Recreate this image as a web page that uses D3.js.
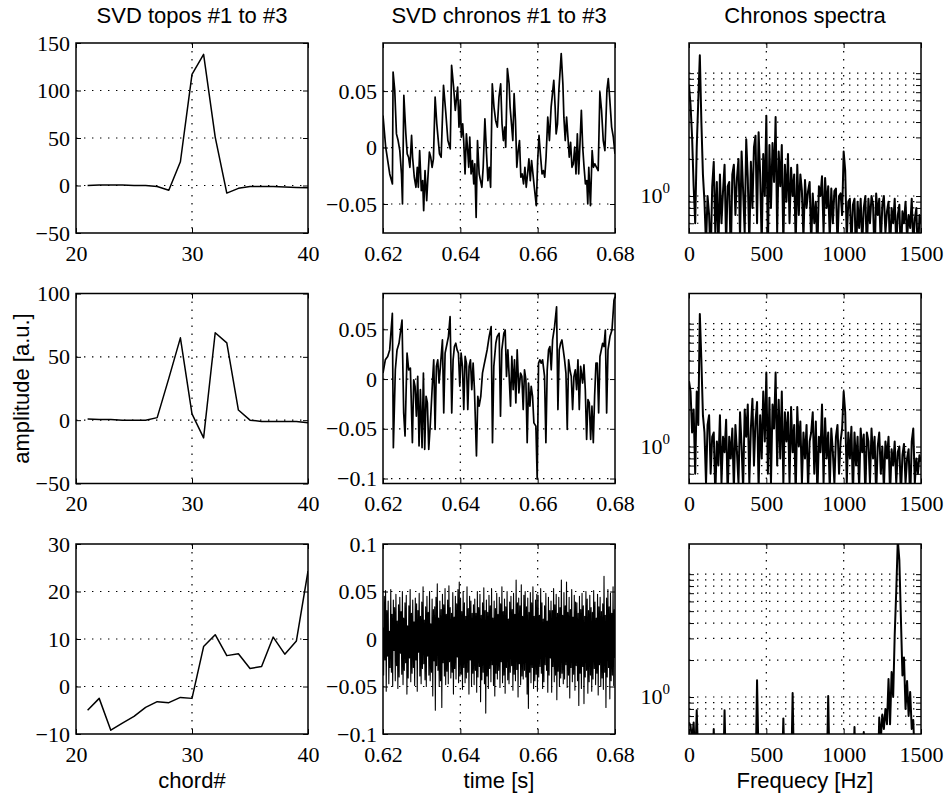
<!DOCTYPE html>
<html>
<head>
<meta charset="utf-8">
<script src="https://cdn.jsdelivr.net/npm/d3@7"></script>
<style>
  html, body { margin: 0; padding: 0; background: #fff; }
  svg { display: block; background: #fff; }
</style>
</head>
<body>
<svg id="fig" width="949" height="798"></svg>
<script>
// ---- data ----------------------------------------------------------------
const chords = [21,22,23,24,25,26,27,28,29,30,31,32,33,34,35,36,37,38,39,40];
const topo1 = [0,0.5,0.5,0.5,0,0,-1,-5,25,117,138,51,-8,-3,-1,-1,-1,-1.5,-2,-2.5];
const topo2 = [1,0.5,0.5,0,0,0,2,33,65,5,-14,69,61,8,0,-1,-1,-1,-1,-2];
const topo3 = [-5,-2.5,-9.2,-7.7,-6.3,-4.4,-3.2,-3.4,-2.3,-2.5,8.4,10.9,6.5,6.9,3.8,4.2,10.4,6.8,9.6,24.3];

// chronos #1, #2 : [time in ms, amplitude]
const chrono1 = [
  [620.00,0.0284],[620.70,0.0003],[621.74,-0.0234],[622.44,-0.0323],[622.61,0.0669],[623.04,0.0506],
  [623.48,0.0121],[623.91,0.0062],[624.35,-0.0027],[624.78,-0.0234],[625.04,-0.0500],[625.39,0.0462],
  [625.91,0.0121],[626.26,-0.0056],[626.61,-0.0086],[626.96,-0.0175],[627.39,0.0107],[627.65,-0.0086],
  [628.09,-0.0263],[628.52,-0.0352],[628.87,-0.0175],[629.13,-0.0352],[629.48,-0.0027],[629.91,-0.0382],
  [630.26,-0.0293],[630.52,-0.0559],[630.87,-0.0204],[631.30,-0.0471],[631.57,-0.0293],[632.00,-0.0041],
  [632.35,-0.0086],[632.70,-0.0175],[633.04,-0.0101],[633.48,0.0447],[633.91,0.0210],[634.61,-0.0056],
  [635.04,-0.0086],[635.65,0.0551],[636.26,0.0299],[636.78,0.0062],[637.39,-0.0012],[637.74,0.0728],
  [638.26,0.0536],[638.70,0.0329],[639.30,0.0536],[639.65,0.0181],[640.00,0.0417],[640.26,0.0092],
  [640.61,0.0210],[640.87,0.0062],[641.22,-0.0234],[641.57,0.0121],[641.91,-0.0027],[642.17,-0.0175],
  [642.44,0.0092],[642.78,-0.0234],[643.13,-0.0115],[643.48,-0.0323],[643.74,-0.0145],[644.09,-0.0619],
  [644.44,0.0062],[644.87,-0.0234],[645.22,-0.0293],[645.57,-0.0352],[645.91,-0.0175],[646.35,0.0255],
  [646.78,-0.0056],[647.13,-0.0293],[647.48,-0.0175],[647.83,-0.0352],[648.26,0.0565],[648.70,0.0358],
  [649.13,0.0240],[649.57,0.0181],[650.00,0.0447],[650.43,0.0565],[650.78,0.0210],[651.13,0.0062],
  [651.48,0.0181],[651.74,0.0003],[652.17,0.0699],[652.61,0.0565],[652.87,0.0358],[653.30,0.0181],
  [653.57,0.0062],[653.91,0.0477],[654.26,0.0240],[654.61,-0.0175],[654.96,-0.0027],[655.30,0.0062],
  [655.65,-0.0263],[656.00,-0.0234],[656.35,-0.0323],[656.70,-0.0175],[657.04,-0.0352],[657.39,-0.0234],
  [657.74,-0.0101],[658.09,-0.0293],[658.43,-0.0115],[658.78,-0.0234],[659.13,-0.0352],[659.65,-0.0515],
  [660.00,-0.0115],[660.35,0.0107],[660.70,-0.0056],[661.13,-0.0234],[661.48,-0.0204],[661.83,-0.0263],
  [662.17,-0.0086],[662.61,0.0269],[663.04,0.0062],[663.48,0.0358],[663.91,0.0506],[664.17,0.0595],
  [664.52,0.0358],[664.78,0.0121],[665.13,0.0210],[665.48,0.0506],[666.09,0.0832],[666.52,0.0565],
  [666.78,0.0269],[667.13,0.0062],[667.48,0.0269],[667.83,0.0092],[668.17,-0.0086],[668.52,0.0047],
  [668.87,-0.0175],[669.22,-0.0145],[669.57,0.0003],[669.91,-0.0234],[670.26,0.0121],[670.61,-0.0234],
  [671.30,0.0329],[671.65,0.0003],[672.00,-0.0175],[672.35,-0.0323],[672.70,-0.0293],[672.96,-0.0500],
  [673.22,-0.0175],[673.65,-0.0515],[674.09,-0.0027],[674.43,-0.0175],[674.78,-0.0145],[675.22,-0.0175],
  [675.65,-0.0204],[676.09,0.0491],[676.52,0.0329],[676.96,0.0062],[677.39,-0.0027],[677.91,0.0506],
  [678.26,0.0610],[678.61,0.0447],[679.13,0.0181],[679.57,0.0092],[680.00,-0.0056]
];
const chrono2 = [
  [620.00,0.0060],[620.60,0.0193],[621.21,0.0227],[621.73,0.0293],[622.42,0.0660],[622.68,-0.0690],
  [623.19,0.0093],[623.63,0.0293],[624.14,0.0360],[624.92,0.0593],[625.35,-0.0340],[625.70,-0.0573],
  [626.22,0.0260],[626.65,0.0093],[627.08,0.0110],[627.60,-0.0640],[627.94,-0.0007],[628.29,-0.0073],
  [628.63,-0.0373],[628.98,0.0027],[629.32,-0.0673],[629.67,-0.0107],[630.10,-0.0690],[630.45,0.0060],
  [630.79,-0.0707],[631.14,-0.0173],[631.48,-0.0240],[631.83,-0.0707],[632.26,-0.0440],[632.78,-0.0040],
  [633.12,0.0193],[633.47,-0.0507],[633.81,0.0127],[634.16,0.0193],[634.50,-0.0040],[634.85,0.0127],
  [635.37,0.0393],[635.71,-0.0340],[636.06,0.0260],[636.58,0.0360],[636.92,0.0427],[637.35,0.0627],
  [637.78,-0.0340],[638.13,0.0193],[638.47,0.0327],[638.82,0.0360],[639.17,0.0293],[639.51,0.0260],
  [639.86,-0.0073],[640.20,0.0260],[640.55,0.0127],[640.89,-0.0307],[641.24,0.0227],[641.58,0.0160],
  [641.93,-0.0307],[642.27,0.0127],[642.62,0.0193],[642.96,-0.0107],[643.31,0.0160],[643.65,-0.0107],
  [644.17,-0.0773],[644.52,-0.0173],[644.86,-0.0273],[645.29,-0.0173],[645.73,0.0060],[646.07,0.0127],
  [646.59,0.0227],[646.93,0.0293],[647.45,0.0427],[647.97,0.0527],[648.32,-0.0640],[648.66,0.0127],
  [649.18,0.0360],[649.52,0.0427],[650.04,0.0460],[650.39,-0.0373],[650.73,0.0293],[651.25,0.0460],
  [651.60,0.0493],[651.94,0.0027],[652.29,0.0293],[652.63,0.0027],[652.98,-0.0273],[653.32,0.0227],
  [653.67,-0.0107],[654.01,0.0193],[654.36,-0.0240],[654.70,0.0293],[655.14,-0.0140],[655.57,0.0060],
  [655.91,0.0027],[656.26,-0.0307],[656.60,0.0093],[656.95,-0.0007],[657.29,-0.0640],[657.64,-0.0040],
  [657.99,-0.0273],[658.33,-0.0073],[658.68,-0.0173],[659.02,-0.0440],[659.54,-0.0473],[659.88,-0.1007],
  [660.23,0.0160],[660.57,0.0193],[660.92,0.0160],[661.27,0.0193],[661.78,0.0027],[662.13,-0.0640],
  [662.47,0.0093],[662.82,0.0293],[663.16,0.0327],[663.51,0.0093],[663.86,0.0393],[664.37,0.0527],
  [664.89,0.0727],[665.24,-0.0307],[665.58,0.0293],[665.93,0.0360],[666.27,0.0393],[666.62,0.0293],
  [666.96,0.0193],[667.31,0.0060],[667.65,-0.0507],[668.00,0.0193],[668.34,0.0093],[668.69,0.0027],
  [669.04,-0.0307],[669.38,0.0027],[669.73,0.0093],[670.07,-0.0107],[670.42,0.0193],[670.76,-0.0307],
  [671.11,0.0127],[671.63,-0.0040],[671.97,0.0143],[672.32,-0.0107],[672.66,-0.0607],[673.01,-0.0207],
  [673.35,-0.0240],[673.70,-0.0607],[674.04,-0.0273],[674.39,-0.0640],[674.73,-0.0173],[675.08,0.0160],
  [675.42,0.0160],[675.77,-0.0340],[676.11,0.0227],[676.46,0.0293],[676.81,0.0360],[677.15,0.0327],
  [677.50,0.0493],[677.84,-0.0340],[678.19,0.0293],[678.70,0.0427],[679.22,0.0493],[679.74,0.0793],
  [680.00,0.0827]
];
// chronos #3 : evenly sampled 0.62..0.68 s, amplitude in units of 1e-3
const chrono3 = [
  12,-38,45,-22,51,-55,30,-18,40,-47,8,-30,52,-35,26,-50,41,-12,33,-44,
  47,-28,19,-52,36,-40,44,-15,29,-37,50,-48,22,-33,38,-25,46,-58,14,-41,
  35,-20,52,-45,27,-36,41,-30,18,-49,43,-22,37,-55,30,-14,48,-39,24,-47,
  39,-31,55,-26,20,-43,34,-50,45,-18,28,-38,50,-44,16,-35,42,-60,31,-23,
  34,-75,44,-28,58,-33,22,-50,40,-44,31,-72,47,-25,36,-39,53,-48,26,-34,
  41,-47,56,-24,33,-41,27,-35,49,-58,23,-31,45,-42,37,-19,52,-46,60,-39,
  43,-37,29,-53,50,-30,38,-46,24,-41,55,-35,32,-58,45,-22,40,-49,27,-36,
  36,-48,42,-33,27,-56,50,-40,33,-29,47,-66,25,-43,38,-35,54,-47,30,-78,
  41,-39,28,-52,46,-31,35,-45,53,-27,22,-49,40,-60,32,-36,48,-42,26,-33,
  44,-51,37,-24,55,-46,29,-38,42,-57,34,-30,50,-43,21,-47,39,-35,45,-28,
  31,-54,48,-37,26,-44,62,-32,38,-61,43,-26,35,-48,57,-39,24,-42,46,-33,
  50,-40,34,-58,43,-73,28,-35,49,-46,38,-30,55,-52,24,-44,41,-37,47,-55,
  46,-40,25,-29,53,-36,38,-52,21,-45,35,-27,48,-33,19,-56,44,-38,30,-20,
  40,-56,30,-29,53,-45,36,-38,47,-64,27,-34,44,-50,33,-41,62,-36,25,-47,
  49,-42,35,-27,60,-51,28,-38,44,-62,31,-30,52,-45,23,-37,46,-54,39,-28,
  38,-44,27,-70,45,-36,31,-52,48,-29,35,-68,24,-40,50,-33,42,-57,30,-45,
  46,-38,33,-55,28,-42,51,-31,39,-48,22,-36,47,-59,34,-27,44,-50,29,-41,
  37,-53,66,-35,25,-72,43,-40,52,-30,34,-63,48,-44,27,-38,55,-49,31,-20
];

// spectra : amplitude per 10 Hz bin, 0..1500 Hz
const specStep = 10;
const spec1 = [
  8.0,5.5,3.0,1.2,0.6,2.5,6.0,14.0,4.0,1.5,0.9,0.4,1.0,0.7,0.3,1.2,1.9,0.5,1.3,0.35,
  1.5,0.6,1.1,1.8,0.4,1.2,1.3,0.3,1.5,1.8,0.7,1.4,2.0,0.45,2.3,1.1,0.5,2.9,1.4,0.4,
  1.9,0.8,2.5,3.1,0.6,3.3,1.5,0.4,2.2,1.0,4.5,0.35,2.6,0.8,2.7,1.3,4.4,0.5,2.3,1.2,
  2.6,0.4,1.8,0.9,2.2,0.6,1.7,1.0,1.5,0.4,1.8,0.7,1.5,1.1,0.45,1.35,0.8,1.1,1.3,0.4,
  1.05,0.6,0.9,0.35,1.2,1.0,1.45,0.5,1.4,0.8,1.2,0.45,1.15,0.6,1.1,1.15,0.4,1.0,1.05,0.7,
  2.3,1.6,0.45,0.9,0.95,0.4,0.85,0.95,0.3,0.9,0.55,0.95,0.4,0.8,1.0,0.35,0.95,0.6,1.0,0.85,
  0.3,1.05,0.7,0.95,0.4,0.85,1.0,0.5,0.75,0.9,0.35,0.8,0.6,0.95,0.4,0.7,0.85,0.3,0.75,0.6,
  0.9,0.45,0.7,0.55,0.95,0.4,0.65,0.8,0.3,0.7,0.6
];
const spec2 = [
  3.4,2.8,1.3,2.0,0.6,2.8,1.5,12.0,5.0,1.8,1.3,0.5,1.5,1.8,0.6,1.2,1.3,0.4,1.1,0.7,
  1.8,0.5,1.2,0.9,1.65,0.4,1.2,0.8,1.4,0.45,1.5,0.9,0.5,1.9,1.0,0.45,2.0,1.2,2.2,0.5,
  1.4,2.45,0.7,1.6,2.3,0.45,1.8,0.8,2.8,1.1,4.0,0.6,2.5,0.5,2.2,1.4,4.0,0.7,2.4,0.8,
  2.8,0.5,1.9,1.1,1.9,0.5,2.1,0.9,1.5,0.4,2.1,1.0,1.6,0.5,1.3,0.8,1.5,0.45,1.1,1.3,
  1.9,0.6,1.6,0.4,1.2,0.9,2.2,0.5,1.7,0.8,1.3,0.45,1.4,0.9,0.5,1.2,1.5,0.6,1.1,1.4,
  2.8,1.9,0.5,1.3,0.8,1.45,0.4,1.3,0.7,1.2,0.45,1.4,0.9,1.25,0.4,1.3,1.1,0.5,1.4,0.8,
  1.2,0.4,1.0,1.3,0.6,1.0,0.45,1.1,0.8,1.2,0.4,0.95,0.7,1.1,0.5,0.9,1.0,0.4,0.85,1.05,
  0.5,0.8,0.95,0.35,1.1,1.4,0.5,0.8,0.6,0.85,0.75
];
const spec3 = [
  0.62,0.58,0.45,0.62,0.3,0.78,0.3,0.2,0.2,0.2,0.2,0.2,0.2,0.2,0.2,0.2,0.55,0.2,0.2,0.2,
  0.2,0.2,0.2,0.78,0.2,0.2,0.2,0.2,0.2,0.2,0.2,0.2,0.2,0.2,0.2,0.2,0.2,0.2,0.2,0.2,
  0.2,0.2,0.2,0.2,1.37,0.3,0.2,0.2,0.2,0.2,0.2,0.2,0.2,0.2,0.2,0.2,0.2,0.2,0.2,0.2,
  0.2,0.67,0.2,0.2,0.2,0.2,0.2,1.08,0.2,0.2,0.2,0.2,0.2,0.2,0.2,0.2,0.2,0.2,0.2,0.2,
  0.2,0.2,0.2,0.2,0.2,0.2,0.2,0.2,0.2,0.2,1.02,0.2,0.2,0.2,0.2,0.2,0.2,0.2,0.2,0.2,
  0.2,0.2,0.2,0.2,0.2,0.2,0.2,0.57,0.2,0.2,0.2,0.2,0.2,0.52,0.2,0.2,0.2,0.2,0.2,0.2,
  0.2,0.2,0.2,0.68,0.45,0.72,0.55,0.8,0.6,1.4,0.6,1.6,1.0,3.2,7.3,19,13,4.4,1.5,2.1,
  0.8,1.35,0.7,1.1,0.55,0.65,0.3,0.2,0.2,0.2,0.2
];

// axis ticks and ranges
const titles = ["SVD topos #1 to #3", "SVD chronos #1 to #3", "Chronos spectra"];
const xLabels = ["chord#", "time [s]", "Frequecy [Hz]"];
const yLabel = "amplitude [a.u.]";
const topoXTicks = [20, 30, 40];
const topoYTicks = [[-50,0,50,100,150], [-50,0,50,100], [-10,0,10,20,30]];
const topoYDomain = [[-50,150], [-50,100], [-10,30]];
const chronoXTicks = [620, 640, 660, 680];
const chronoYTicks = [[-0.05,0,0.05], [-0.1,-0.05,0,0.05], [-0.1,-0.05,0,0.05,0.1]];
const chronoYDomain = [[-0.0757,0.0926], [-0.105,0.086], [-0.1,0.1]];
const specXTicks = [0, 500, 1000, 1500];
const specYDomain = [0.5, 17.6];
const specYGrid = [0.6,0.7,0.8,0.9,1,2,3,4,5,6,7,8,9,10];

// ---- layout ---------------------------------------------------------------
const colX = [76, 383, 689], rowY = [43, 293.5, 544], PW = 232, PH = 190;
const SERIF = "'Liberation Serif', 'Times New Roman', 'DejaVu Serif', serif";
const SANS = "'Liberation Sans', Arial, 'DejaVu Sans', sans-serif";
const svg = d3.select("#fig");

const minus = (d) => (d < 0 ? "\u2212" : "") + Math.abs(d);

function panel(c, r, x, y, o) {
  const g = svg.append("g").attr("transform", `translate(${colX[c]},${rowY[r]})`);
  const cid = `clip-${c}-${r}`;
  g.append("clipPath").attr("id", cid).append("rect").attr("width", PW).attr("height", PH);

  // dotted grid (MATLAB ':' style)
  const grid = g.append("g").attr("stroke", "#000").attr("stroke-width", 1.2)
    .attr("stroke-dasharray", "1.4 6.6").attr("fill", "none");
  o.xt.forEach((v) => {
    const px = x(v);
    if (px > 1 && px < PW - 1) grid.append("line").attr("x1", px).attr("x2", px).attr("y1", 0).attr("y2", PH);
  });
  (o.gy || o.yt).forEach((v) => {
    const py = y(v);
    if (py > 1 && py < PH - 1) grid.append("line").attr("x1", 0).attr("x2", PW).attr("y1", py).attr("y2", py);
  });

  // data
  g.append("path").attr("clip-path", `url(#${cid})`).attr("d", o.path)
    .attr("fill", "none").attr("stroke", "#000").attr("stroke-width", o.sw || 1.5)
    .attr("stroke-linejoin", "round");

  // inward ticks on all four sides, labels left and bottom
  const yTickVals = o.ytTicks || o.yt;
  const ax = [
    [d3.axisBottom(x).tickValues(o.xt).tickFormat(o.xf).tickPadding(12), `translate(0,${PH})`],
    [d3.axisTop(x).tickValues(o.xt).tickFormat("").tickPadding(0), ""],
    [d3.axisLeft(y).tickValues(yTickVals).tickFormat(o.yf || "").tickPadding(6), ""],
    [d3.axisRight(y).tickValues(yTickVals).tickFormat("").tickPadding(0), `translate(${PW},0)`]
  ];
  ax.forEach(([a, tr]) => {
    const s = g.append("g").attr("transform", tr).call(a.tickSizeInner(-5).tickSizeOuter(0));
    s.attr("font-family", null).attr("font-size", null);
    s.select(".domain").remove();
    s.selectAll("line").attr("stroke", "#000").attr("stroke-width", 1);
    s.selectAll("text").style("font-family", SERIF).style("font-size", "22px").attr("fill", "#000");
  });

  // frame
  g.append("rect").attr("width", PW).attr("height", PH).attr("fill", "none")
    .attr("stroke", "#000").attr("stroke-width", 1.5);
  return g;
}

// column 1: topos
[topo1, topo2, topo3].forEach((arr, r) => {
  const x = d3.scaleLinear().domain([20, 40]).range([0, PW]);
  const y = d3.scaleLinear().domain(topoYDomain[r]).range([PH, 0]);
  const line = d3.line().x((d, i) => x(chords[i])).y((d) => y(d));
  panel(0, r, x, y, { xt: topoXTicks, yt: topoYTicks[r], xf: (d) => d, yf: minus, path: line(arr) });
});

// column 2: chronos
[chrono1, chrono2, chrono3].forEach((arr, r) => {
  const x = d3.scaleLinear().domain([620, 680]).range([0, PW]);
  const y = d3.scaleLinear().domain(chronoYDomain[r]).range([PH, 0]);
  let line;
  if (r < 2) line = d3.line().x((d) => x(d[0])).y((d) => y(d[1]));
  else line = d3.line().x((d, i) => x(620 + i * 60 / (arr.length - 1))).y((d) => y(d / 1000));
  panel(1, r, x, y, {
    xt: chronoXTicks, yt: chronoYTicks[r], xf: (d) => (d / 1000).toFixed(2), yf: minus,
    path: line(arr), sw: r === 2 ? 1.1 : 1.7
  });
});

// column 3: spectra (log y)
[spec1, spec2, spec3].forEach((arr, r) => {
  const x = d3.scaleLinear().domain([0, 1500]).range([0, PW]);
  const y = d3.scaleLog().domain(specYDomain).range([PH, 0]);
  const line = d3.line().x((d, i) => x(i * specStep)).y((d) => y(d));
  const g = panel(2, r, x, y, {
    xt: specXTicks, yt: specYGrid, gy: specYGrid, ytTicks: specYGrid, xf: (d) => d, yf: null,
    path: line(arr), sw: 2.0
  });
  const t = g.append("text").attr("x", -19).attr("y", y(1) + 7).attr("text-anchor", "end")
    .style("font-family", SERIF).style("font-size", "22px").attr("fill", "#000");
  t.append("tspan").text("10");
  t.append("tspan").attr("dy", -10).style("font-size", "15px").text("0");
});

// titles and axis labels
titles.forEach((s, c) => {
  svg.append("text").attr("x", colX[c] + PW / 2).attr("y", 23).attr("text-anchor", "middle")
    .style("font-family", SANS).style("font-size", "22px").text(s);
});
xLabels.forEach((s, c) => {
  svg.append("text").attr("x", colX[c] + PW / 2).attr("y", 788).attr("text-anchor", "middle")
    .style("font-family", SANS).style("font-size", "22px").text(s);
});
svg.append("text").attr("transform", `translate(29,${rowY[1] + PH / 2}) rotate(-90)`)
  .attr("text-anchor", "middle").style("font-family", SANS).style("font-size", "22px").text(yLabel);
</script>
</body>
</html>
